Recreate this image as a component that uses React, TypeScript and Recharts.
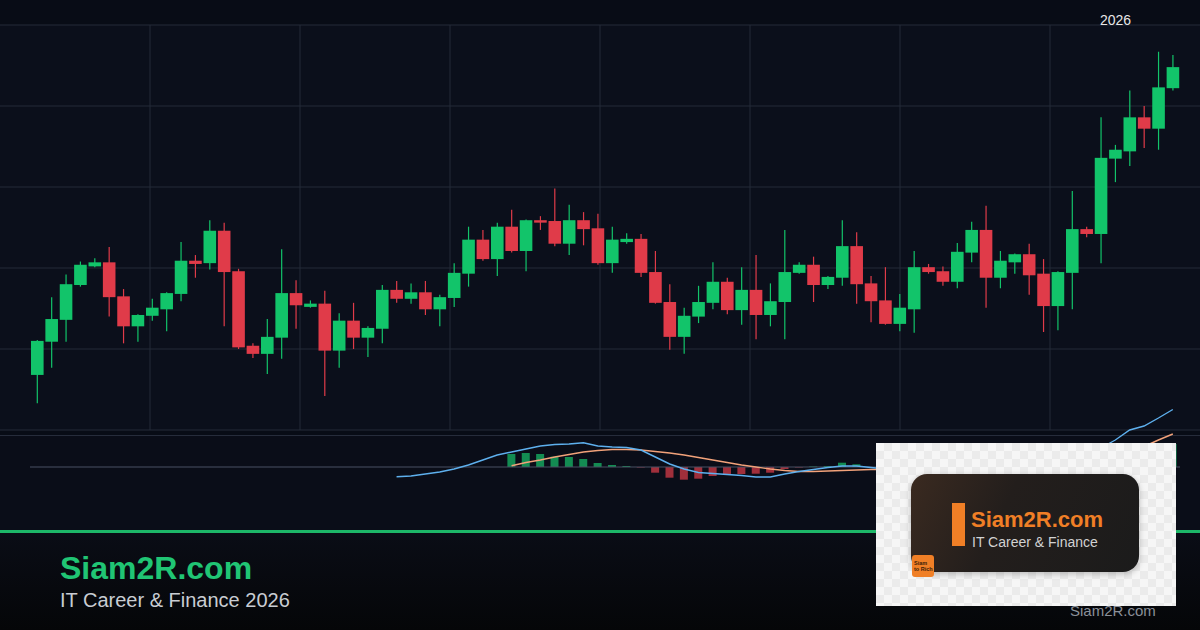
import React from 'react';
import { ComposedChart, Bar, Line, XAxis, YAxis, CartesianGrid, ReferenceLine, Cell } from 'recharts';

// candle data (one candle per session)
const OPEN = [
  106.8, 110.9, 113.6, 117.9, 120.2, 120.7, 116.5, 112.8, 114.1, 114.9,
  116.8, 120.9, 120.6, 124.6, 119.6, 110.4, 109.4, 111.4, 116.9, 115.2,
  115.6, 109.8, 113.5, 111.4, 112.5, 117.3, 116.2, 117.0, 114.9, 116.3,
  119.3, 123.5, 121.1, 125.1, 122.1, 125.9, 125.8, 123.0, 125.9, 124.9,
  120.6, 123.2, 123.6, 119.5, 115.8, 111.5, 114.0, 115.7, 118.3, 114.8,
  117.3, 114.2, 115.8, 119.4, 120.4, 117.9, 118.8, 122.7, 118.1, 116.0,
  113.1, 114.9, 120.1, 119.6, 118.3, 121.9, 124.7, 118.8, 120.7, 121.7,
  119.3, 115.3, 119.4, 124.8, 124.2, 133.5, 134.4, 138.6, 137.2, 142.2,
];
const HIGH = [
  111.1, 116.4, 119.2, 120.8, 121.2, 122.6, 117.4, 114.3, 116.2, 117.0,
  123.2, 121.6, 125.9, 125.6, 119.9, 110.7, 113.7, 122.3, 118.5, 116.0,
  117.2, 114.4, 115.7, 112.8, 117.9, 118.4, 118.1, 118.4, 116.7, 120.6,
  125.1, 124.7, 125.6, 127.2, 126.0, 126.4, 129.8, 127.8, 126.9, 126.7,
  125.1, 124.3, 124.2, 122.1, 118.0, 115.1, 117.8, 120.7, 118.8, 120.1,
  121.6, 118.1, 124.7, 120.7, 121.4, 119.0, 125.9, 124.4, 119.0, 120.1,
  116.8, 122.1, 120.5, 120.2, 123.1, 125.7, 127.7, 122.1, 121.8, 123.0,
  121.1, 119.6, 129.5, 125.1, 138.6, 135.2, 141.9, 140.0, 146.7, 146.3,
];
const LOW = [
  103.3, 107.7, 110.9, 117.7, 120.1, 114.0, 110.7, 110.9, 113.5, 112.2,
  115.9, 118.8, 119.8, 112.8, 110.0, 108.9, 106.9, 108.8, 112.5, 115.1,
  104.2, 107.7, 110.0, 109.0, 110.7, 115.7, 115.6, 114.2, 112.8, 115.2,
  117.7, 120.9, 119.0, 121.9, 119.6, 124.7, 122.7, 121.6, 122.8, 120.4,
  119.4, 123.0, 118.9, 115.6, 109.9, 109.4, 113.2, 114.9, 114.3, 113.0,
  111.2, 112.8, 111.2, 119.3, 115.8, 117.4, 117.8, 115.6, 113.3, 113.0,
  112.2, 112.0, 119.3, 117.8, 117.5, 120.7, 115.1, 117.5, 119.3, 116.7,
  112.1, 112.3, 114.9, 123.8, 120.6, 130.6, 132.6, 134.8, 134.6, 141.9,
];
const CLOSE = [
  111.0, 113.7, 118.0, 120.4, 120.7, 116.4, 112.8, 114.2, 115.1, 116.9,
  120.9, 120.5, 124.6, 119.5, 110.2, 109.4, 111.5, 116.9, 115.4, 115.6,
  109.8, 113.5, 111.4, 112.6, 117.3, 116.2, 117.0, 114.9, 116.4, 119.4,
  123.5, 121.1, 125.1, 122.1, 125.9, 125.6, 123.0, 125.9, 124.8, 120.6,
  123.5, 123.6, 119.4, 115.7, 111.5, 114.1, 115.8, 118.3, 114.8, 117.3,
  114.2, 115.9, 119.5, 120.4, 117.9, 118.9, 122.7, 118.0, 115.9, 113.1,
  115.1, 120.1, 119.5, 118.3, 122.0, 124.7, 118.8, 120.9, 121.7, 119.1,
  115.3, 119.5, 124.8, 124.2, 133.6, 134.6, 138.6, 137.2, 142.3, 144.8,
];

// MACD pane: line starts at candle 25, signal and histogram at candle 33
const MACD_START = 25;
const MACD = [
  -0.97, -0.9, -0.7, -0.5, -0.2, 0.2, 0.7, 1.2, 1.5, 1.8,
  2.1, 2.25, 2.3, 2.43, 2.1, 2.0, 1.95, 1.7, 1.0, 0.3,
  -0.2, -0.55, -0.65, -0.75, -0.85, -1.0, -1.0, -0.7, -0.45, -0.25,
  -0.05, 0.1, 0.1, -0.05, -0.2, -0.4, -0.3, -0.2, -0.15, 0,
  0.2, 0.15, 0.1, 0.1, 0.05, -0.1, 0, 0.5, 0.9, 1.9,
  2.7, 3.7, 4.1, 4.9, 5.75,
];
const SIGNAL_START = 33;
const SIGNAL = [
  0.13, 0.45, 0.7, 1.0, 1.25, 1.5, 1.65, 1.75, 1.75, 1.7,
  1.55, 1.4, 1.2, 0.95, 0.7, 0.45, 0.2, 0, -0.2, -0.35,
  -0.45, -0.45, -0.4, -0.35, -0.3, -0.25, -0.25, -0.27, -0.28, -0.28,
  -0.26, -0.22, -0.15, -0.1, -0.05, -0.02, 0, -0.02, -0.02, 0.07,
  0.23, 0.56, 1.0, 1.5, 2.05, 2.7, 3.3,
];
const HIST = [
  1.3, 1.4, 1.3, 1.03, 1.0, 0.8, 0.4, 0.2, 0.1, -0.05,
  -0.57, -1.07, -1.27, -1.17, -0.9, -0.8, -0.7, -0.67, -0.57, -0.2,
  -0.05, 0.05, 0.1, 0.43, 0.27, -0.05, 0.05, -0.13, -0.02, 0.08,
  0.11, 0.22, 0.35, 0.25, 0.15, 0.12, 0.05, -0.08, 0.02, 0.43,
  0.67, 1.34, 1.7, 2.0, 2.05, 2.2, 2.3,
];

const PRICE_TICKS = [100, 110, 120, 130, 140, 150];
const YEAR_LABEL = '2026';

const W = 1200;
const H = 630;
const PAD_L = 30;
const PAD_R = 20;
const N = CLOSE.length;
const STEP = (W - PAD_L - PAD_R) / N;
const X_DOMAIN: [number, number] = [-0.5 - PAD_L / STEP, N - 0.5 + PAD_R / STEP];
const V_GRID = [1, 2, 3, 4, 5, 6, 7].map(k => k * 150);

const UP = '#12c46a';
const DOWN = '#e03b49';

const rows = CLOSE.map((close, i) => ({
  i,
  open: OPEN[i],
  high: HIGH[i],
  low: LOW[i],
  close,
  macd: i >= MACD_START ? MACD[i - MACD_START] : null,
  signal: i >= SIGNAL_START ? SIGNAL[i - SIGNAL_START] : null,
  hist: i >= SIGNAL_START ? HIST[i - SIGNAL_START] : null,
}));

function Candle(props: any) {
  const { x, y, width, height, payload } = props;
  if (x == null || payload == null) return null;
  const { open, close, high, low } = payload;
  const color = close >= open ? UP : DOWN;
  const top = Math.min(y, y + height);
  const h = Math.abs(height);
  const px = h / (high - low);
  const yOf = (v: number) => top + (high - v) * px;
  const bTop = yOf(Math.max(open, close));
  const bBot = yOf(Math.min(open, close));
  const cx = x + width / 2;
  return (
    <g>
      <line x1={cx} x2={cx} y1={top} y2={top + h} stroke={color} strokeWidth={1.2} />
      <rect x={x} y={bTop} width={width} height={Math.max(1.5, bBot - bTop)} fill={color} />
    </g>
  );
}

const font = '"Liberation Sans", Arial, sans-serif';

export default function App() {
  return (
    <div style={{ position: 'absolute', left: 0, top: 0, width: W, height: H, overflow: 'hidden', background: '#080c16', fontFamily: font }}>
      <div style={{ position: 'absolute', left: 0, top: 0 }}>
        <ComposedChart width={W} height={435} data={rows} margin={{ top: 25, right: 0, bottom: 5, left: 0 }}>
          <CartesianGrid stroke="#252a39" fill="#0b0f1b" verticalPoints={V_GRID} />
          <XAxis dataKey="i" type="number" domain={X_DOMAIN} hide />
          <YAxis type="number" domain={[100, 150]} ticks={PRICE_TICKS} hide />
          <Bar dataKey={(d: any) => [d.low, d.high]} barSize={12.6} shape={<Candle />} isAnimationActive={false} />
        </ComposedChart>
      </div>

      <div style={{ position: 'absolute', left: 0, top: 435, width: W, height: 1, background: '#262c3b' }} />
      <div style={{ position: 'absolute', left: 0, top: 436, width: W, height: 94, background: '#0a0d18' }} />

      <div style={{ position: 'absolute', left: 0, top: 395 }}>
        <ComposedChart width={W} height={140} data={rows} margin={{ top: 0, right: 0, bottom: 0, left: 0 }}>
          <XAxis dataKey="i" type="number" domain={X_DOMAIN} hide />
          <YAxis type="number" domain={[-6.8, 7.2]} hide />
          <ReferenceLine segment={[{ x: -0.5, y: 0 }, { x: N - 0.5, y: 0 }]} stroke="#485063" strokeWidth={1} />
          <Bar dataKey="hist" barSize={8} isAnimationActive={false}>
            {rows.map(r => (
              <Cell key={r.i} fill={(r.hist ?? 0) >= 0 ? '#138c52' : '#a02f3b'} />
            ))}
          </Bar>
          <Line dataKey="signal" type="linear" stroke="#f2a27a" strokeWidth={1.4} dot={false} isAnimationActive={false} />
          <Line dataKey="macd" type="linear" stroke="#5eb0ee" strokeWidth={1.4} dot={false} isAnimationActive={false} />
        </ComposedChart>
      </div>

      <div style={{ position: 'absolute', left: 1100, top: 12, fontSize: 14, lineHeight: '16px', color: '#e8e8e8' }}>{YEAR_LABEL}</div>

      <div style={{ position: 'absolute', left: 0, top: 533, width: W, height: 97, background: 'linear-gradient(to bottom, #0a0d16, #050608)' }} />
      <div style={{ position: 'absolute', left: 0, top: 530, width: W, height: 3, background: '#1db768' }} />

      <div style={{ position: 'absolute', left: 60, top: 552, fontSize: 32, lineHeight: 1, fontWeight: 700, color: '#20c574' }}>Siam2R.com</div>
      <div style={{ position: 'absolute', left: 60, top: 590, fontSize: 20, lineHeight: 1, color: '#c9cdd3' }}>IT Career &amp; Finance 2026</div>

      <div style={{ position: 'absolute', left: 1070, top: 603, fontSize: 15, lineHeight: 1, color: '#8b9099' }}>Siam2R.com</div>

      <div
        style={{
          position: 'absolute', left: 876, top: 443, width: 300, height: 163,
          background: 'repeating-conic-gradient(#ebebeb 0% 25%, #f6f6f6 0% 50%) 0 0 / 16px 16px',
        }}
      >
        <div
          style={{
            position: 'absolute', left: 35, top: 31, width: 228, height: 98, borderRadius: 16,
            background: 'linear-gradient(115deg, #3a2a20 0%, #231e1c 40%, #1b1b1b 100%)',
            boxShadow: '0 2px 6px rgba(0,0,0,0.25)',
          }}
        />
        <div style={{ position: 'absolute', left: 76, top: 60, width: 13, height: 43, background: '#f07f26' }} />
        <div style={{ position: 'absolute', left: 95, top: 66, fontWeight: 700, fontSize: 22, lineHeight: 1, color: '#f07f26' }}>
          Siam2R.com
        </div>
        <div style={{ position: 'absolute', left: 96, top: 92, fontSize: 14, lineHeight: 1, color: '#d2d2d2' }}>
          IT Career &amp; Finance
        </div>
        <div
          style={{
            position: 'absolute', left: 36, top: 112, width: 22, height: 22, borderRadius: 3, background: '#f07f26',
            fontSize: 5.5, lineHeight: 1.05, color: '#3b1c08', fontWeight: 700, padding: '6px 0 0 2px', boxSizing: 'border-box',
          }}
        >
          Siam<br />to Rich
        </div>
      </div>
    </div>
  );
}
